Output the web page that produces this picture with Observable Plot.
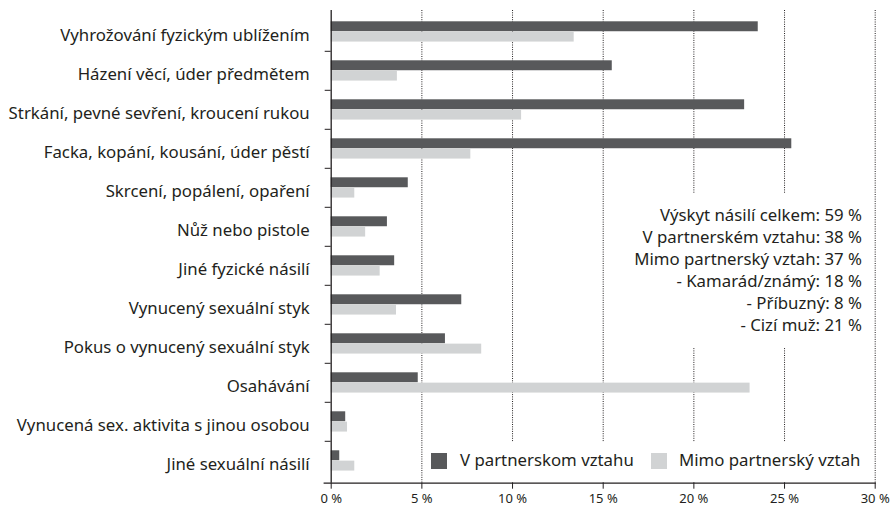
<!DOCTYPE html>
<html>
<head>
<meta charset="utf-8">
<script src="https://cdn.jsdelivr.net/npm/d3@7"></script>
<script src="https://cdn.jsdelivr.net/npm/@observablehq/plot@0.6"></script>
<style>
  html, body { margin: 0; padding: 0; background: #fff; }
  #wrap { position: relative; width: 893px; height: 508px; font-family: "Noto Sans", sans-serif; color: #231f20; }
  #wrap svg { position: absolute; left: 0; top: 0; }
  #note { position: absolute; left: 625px; top: 194px; width: 237px; padding-right: 8px; height: 144px; background: #fff; text-align: right; font-size: 16.8px; line-height: 21.9px; padding-top: 10px; box-sizing: content-box; white-space: nowrap; }
  #legend { position: absolute; left: 424px; top: 442px; width: 448px; height: 40px; background: #fff; font-size: 16.8px; }
  .sw { position: absolute; top: 11px; width: 16px; height: 16px; }
  .lt { position: absolute; top: 7px; white-space: nowrap; line-height: 22px; }
</style>
</head>
<body>
<div id="wrap"></div>
<script>
const categories = [
  "Vyhrožování fyzickým ublížením",
  "Házení věcí, úder předmětem",
  "Strkání, pevné sevření, kroucení rukou",
  "Facka, kopání, kousání, úder pěstí",
  "Skrcení, popálení, opaření",
  "Nůž nebo pistole",
  "Jiné fyzické násilí",
  "Vynucený sexuální styk",
  "Pokus o vynucený sexuální styk",
  "Osahávání",
  "Vynucená sex. aktivita s jinou osobou",
  "Jiné sexuální násilí"
];
const partner = [23.55, 15.5, 22.8, 25.4, 4.25, 3.1, 3.5, 7.2, 6.3, 4.8, 0.8, 0.47];
const outside = [13.4, 3.65, 10.5, 7.7, 1.3, 1.9, 2.7, 3.6, 8.3, 23.1, 0.9, 1.3];
const seriesNames = ["V partnerskom vztahu", "Mimo partnerský vztah"];
const seriesColors = ["#58595b", "#d1d3d4"];
const xTicks = [0, 5, 10, 15, 20, 25, 30];
const noteLines = [
  "Výskyt násilí celkem: 59 %",
  "V partnerském vztahu: 38 %",
  "Mimo partnerský vztah: 37 %",
  "- Kamarád/známý: 18 %",
  "- Příbuzný: 8 %",
  "- Cizí muž: 21 %"
];

const rows = categories.map((c, i) => ({category: c, partner: partner[i], outside: outside[i]}));
const H = 508, mT = 10, mB = 25.3;
const step = (H - mT - mB) / categories.length;

const chart = Plot.plot({
  width: 893,
  height: H,
  marginLeft: 330.7,
  marginRight: 18.3,
  marginTop: mT,
  marginBottom: mB,
  style: {fontFamily: "'Noto Sans', sans-serif", color: "#231f20", background: "#fff", overflow: "visible"},
  x: {domain: [0, 30], label: null},
  y: {domain: categories, padding: 0, label: null},
  marks: [
    Plot.ruleX(xTicks.filter(d => d > 0), {stroke: "#231f20", strokeWidth: 1, strokeDasharray: "1,1.3"}),
    Plot.barX(rows, {x: "partner", y: "category", fill: seriesColors[0], insetTop: 9.3, insetBottom: step - 9.3 - 10.33}),
    Plot.barX(rows, {x: "outside", y: "category", fill: seriesColors[1], insetTop: 9.3 + 10.33, insetBottom: step - 9.3 - 20.66}),
    Plot.axisY({ticks: categories.slice(1), tickSize: 6, tickFormat: () => "", label: null, dy: -step / 2, stroke: "#231f20", strokeWidth: 1}),
    Plot.axisY({tickSize: 0, tickPadding: 21.5, fontSize: 16.8, label: null, dy: 4, fill: "#231f20"}),
    Plot.axisX({ticks: xTicks, tickSize: 6, tickPadding: 5, fontSize: 13, label: null, tickFormat: d => d + " %", stroke: "#231f20", fill: "#231f20"}),
    Plot.frame({anchor: "bottom", insetLeft: -7, stroke: "#231f20", strokeWidth: 1.2}),
    Plot.ruleX([0], {stroke: "#231f20", strokeWidth: 1.3})
  ]
});

const wrap = document.getElementById("wrap");
wrap.appendChild(chart);

const note = document.createElement("div");
note.id = "note";
note.innerHTML = noteLines.map(t => `<div>${t}</div>`).join("");
wrap.appendChild(note);

const legend = document.createElement("div");
legend.id = "legend";
const swLeft = [7, 227];
const txLeft = [36, 255];
seriesNames.forEach((name, i) => {
  const sw = document.createElement("div");
  sw.className = "sw";
  sw.style.left = swLeft[i] + "px";
  sw.style.background = seriesColors[i];
  legend.appendChild(sw);
  const tx = document.createElement("div");
  tx.className = "lt";
  tx.style.left = txLeft[i] + "px";
  tx.textContent = name;
  legend.appendChild(tx);
});
wrap.appendChild(legend);
</script>
</body>
</html>
